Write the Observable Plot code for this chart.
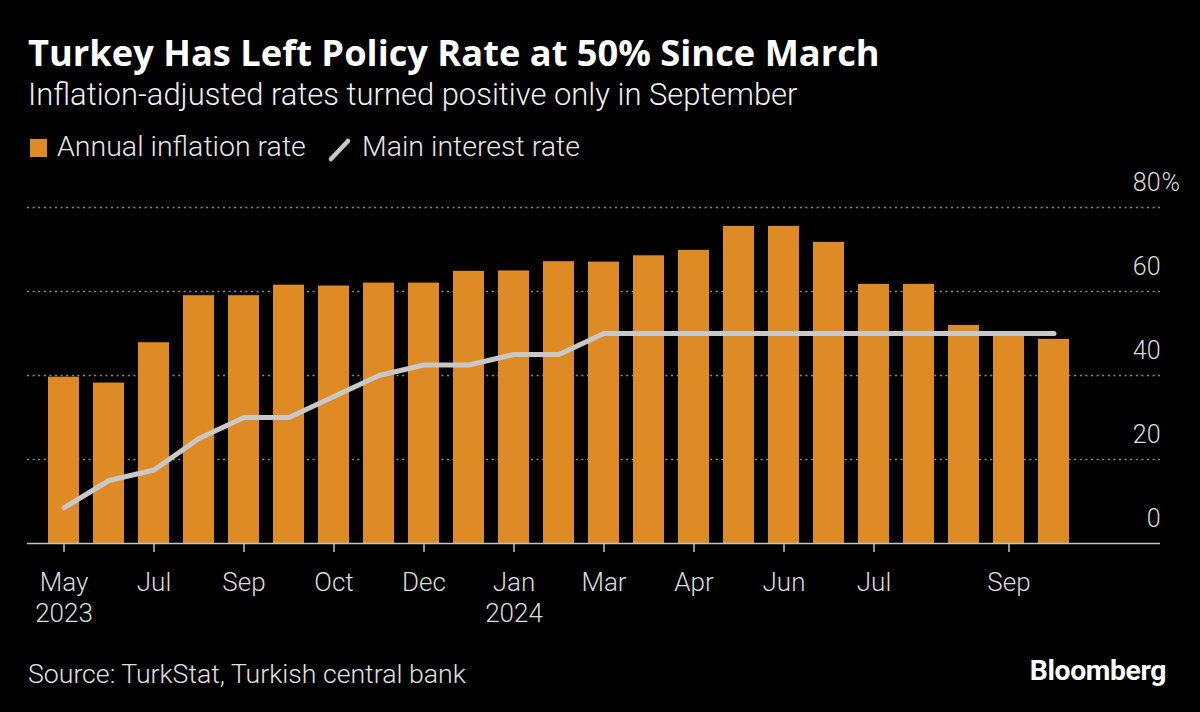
<!DOCTYPE html>
<html>
<head>
<meta charset="utf-8">
<script src="https://cdn.jsdelivr.net/npm/d3@7"></script>
<script src="https://cdn.jsdelivr.net/npm/@observablehq/plot@0.6"></script>
<style>
  html, body { margin: 0; padding: 0; background: #000; }
  #wrap { position: relative; width: 1200px; height: 712px; overflow: hidden; background: #000; }
  .abs { position: absolute; left: 0; }
  #header { top: 0; }
  #chart { top: 160px; }
  #footer { top: 640px; }
</style>
</head>
<body>
<div id="wrap">
  <svg id="header" class="abs" width="1200" height="172">
    <text id="title" x="28" y="66" fill="#ffffff" style="font: 700 32px 'Open Sans', sans-serif">Turkey Has Left Policy Rate at 50% Since March</text>
    <text id="subtitle" x="28" y="105" fill="#f0f0f0" style="font: 300 28px Roboto, sans-serif">Inflation-adjusted rates turned positive only in September</text>
    <rect x="30" y="139" width="17" height="18" fill="#de8b26"></rect>
    <text id="leg1" x="57" y="156" fill="#e6e6e6" style="font: 300 27px Roboto, sans-serif">Annual inflation rate</text>
    <line x1="331" y1="159" x2="348" y2="141" stroke="#c8c8c8" stroke-width="4.5" stroke-linecap="round"></line>
    <text id="leg2" x="362" y="156" fill="#e6e6e6" style="font: 300 27px Roboto, sans-serif">Main interest rate</text>
  </svg>
  <div id="chart" class="abs"></div>
  <svg id="footer" class="abs" width="1200" height="72">
    <text id="source" x="28" y="43" fill="#e0e0e0" style="font: 300 26px Roboto, sans-serif">Source: TurkStat, Turkish central bank</text>
    <text id="logo" x="1166" y="40" text-anchor="end" fill="#ffffff" style="font: 700 26px Roboto, sans-serif; letter-spacing: -0.4px">Bloomberg</text>
  </svg>
</div>
<script>
// Observation points (inflation releases and rate decisions)
const periods = ["May23","Jun23","Jul23","Aug23","Sep23","Sep23b","Oct23","Nov23","Dec23","Dec23b","Jan24","Feb24","Mar24","Mar24b","Apr24","May24","Jun24","Jun24b","Jul24","Jul24b","Aug24","Sep24","Oct24"];
// Annual inflation rate, %
const inflation = [39.6, 38.2, 47.8, 59.0, 59.0, 61.5, 61.3, 62.0, 62.0, 64.8, 64.9, 67.1, 67.0, 68.5, 69.8, 75.5, 75.5, 71.7, 61.7, 61.7, 51.9, 49.4, 48.6];
// Main interest rate (one-week repo), %
const policyRate = [8.5, 15, 17.5, 25, 30, 30, 35, 40, 42.5, 42.5, 45, 45, 50, 50, 50, 50, 50, 50, 50, 50, 50, 50, 50];
// X tick labels
const tickPeriods = ["May23","Jul23","Sep23","Oct23","Dec23","Jan24","Mar24","Apr24","Jun24","Jul24","Sep24"];
const tickLabels = ["May\n2023","Jul","Sep","Oct","Dec","Jan\n2024","Mar","Apr","Jun","Jul","Sep"];
// Y ticks
const yTicks = [0, 20, 40, 60, 80];

// fit header / footer text to the reference widths
function fit(id, target) {
  const el = document.getElementById(id);
  const size = parseFloat(getComputedStyle(el).fontSize);
  const w = el.getComputedTextLength();
  const s = size * target / w;
  el.style.fontSize = s + "px";
  return s;
}
fit("title", 852);
fit("subtitle", 770);
const ls = fit("leg1", 249);
document.getElementById("leg2").style.fontSize = ls + "px";
fit("source", 438);
fit("logo", 136);

const data = periods.map((p, i) => ({period: p, inflation: inflation[i], rate: policyRate[i]}));
const labelOf = new Map(tickPeriods.map((p, i) => [p, tickLabels[i]]));

const chart = Plot.plot({
  width: 1200,
  height: 480,
  marginTop: 47,
  marginBottom: 97,
  marginLeft: 27,
  marginRight: 40,
  style: {background: "transparent", color: "#dcdcdc", fontFamily: "Roboto, sans-serif", fontSize: "25px", fontWeight: 300, overflow: "visible"},
  x: {type: "band", domain: periods, range: [27, 1091], padding: 0.3, axis: null},
  y: {domain: [0, 80], axis: null},
  marks: [
    Plot.ruleY(yTicks.filter(d => d > 0), {stroke: "#8a8a8a", strokeWidth: 1.5, strokeDasharray: "2,3.6"}),
    Plot.barY(data, {x: "period", y: "inflation", fill: "#de8b26"}),
    Plot.line(data, {x: "period", y: "rate", stroke: "#c8c8c8", strokeWidth: 5, strokeLinecap: "round", strokeLinejoin: "round"}),
    Plot.ruleY([0], {stroke: "#c4c4c4", strokeWidth: 1.5}),
    Plot.axisX({ticks: tickPeriods, tickFormat: d => labelOf.get(d), tickSize: 9, tickPadding: 17, stroke: "#c4c4c4", strokeWidth: 1.5, fill: "#dcdcdc", fontSize: 26, lineHeight: 1.17, label: null}),
    Plot.text(yTicks, {y: d => d, text: d => String(d), frameAnchor: "right", textAnchor: "end", lineAnchor: "bottom", dy: -17, fill: "#dcdcdc", fontSize: 25}),
    Plot.text([80], {y: d => d, text: () => "%", frameAnchor: "right", textAnchor: "start", lineAnchor: "bottom", dy: -17, dx: 1, fill: "#dcdcdc", fontSize: 25})
  ]
});
document.getElementById("chart").appendChild(chart);
</script>
</body>
</html>
